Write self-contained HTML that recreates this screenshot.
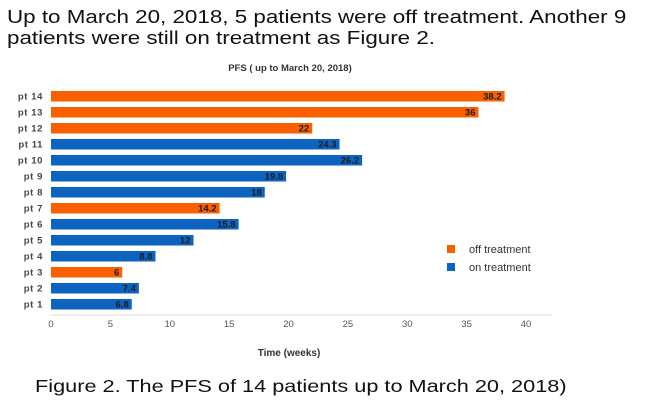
<!DOCTYPE html>
<html><head><meta charset="utf-8"><style>
body{margin:0;width:658px;height:405px;background:#fff;overflow:hidden;font-family:"Liberation Sans",sans-serif;}
.hdr{position:absolute;left:7px;font-size:18.5px;color:#111;white-space:nowrap;transform-origin:0 0;transform:scaleX(1.21);}
</style></head><body>
<div class="hdr" style="top:6px">Up to March 20, 2018, 5 patients were off treatment. Another 9</div>
<div class="hdr" style="top:27px">patients were still on treatment as Figure 2.</div>
<div class="hdr" style="top:376px;left:35px;font-size:17.5px;transform:scaleX(1.24)">Figure 2. The PFS of 14 patients up to March 20, 2018)</div>
<svg id="chart" width="658" height="405" style="position:absolute;left:0;top:0" xmlns="http://www.w3.org/2000/svg">
<text x="290" y="71" text-anchor="middle" font-size="9.5" font-weight="bold" fill="#333" font-family="Liberation Sans, sans-serif">PFS ( up to March 20, 2018)</text>
<text x="289" y="356" text-anchor="middle" font-size="10" font-weight="bold" fill="#333" font-family="Liberation Sans, sans-serif">Time (weeks)</text>
<line x1="51" y1="315" x2="552" y2="315" stroke="#ddd" stroke-width="1"/>
<rect x="447" y="245" width="8" height="8" fill="#f96100"/>
<text x="469" y="253" font-size="11" fill="#333" font-family="Liberation Sans, sans-serif">off treatment</text>
<rect x="447" y="263" width="8" height="8" fill="#0d64c0"/>
<text x="469" y="271" font-size="11" fill="#333" font-family="Liberation Sans, sans-serif">on treatment</text>
</svg>
<script>
const categories=["pt 1","pt 2","pt 3","pt 4","pt 5","pt 6","pt 7","pt 8","pt 9","pt 10","pt 11","pt 12","pt 13","pt 14"];
const values=[6.8,7.4,6,8.8,12,15.8,14.2,18,19.8,26.2,24.3,22,36,38.2];
const offTreatment=[0,0,1,0,0,0,1,0,0,0,0,1,1,1];
const xTicks=[0,5,10,15,20,25,30,35,40];
const svg=document.getElementById('chart');const NS='http://www.w3.org/2000/svg';
const x0=51,x1=526,xmax=40;
const xs=v=>x0+(x1-x0)*v/xmax;
const yTop=91,step=16,bh=10.5;
const ys=i=>yTop+(categories.length-1-i)*step;
function mk(t,a,txt){const e=document.createElementNS(NS,t);for(const k in a)e.setAttribute(k,a[k]);if(txt!==undefined)e.textContent=txt;svg.appendChild(e);return e;}
xTicks.forEach(t=>{const e=mk('text',{x:xs(t),y:327,'text-anchor':'middle','font-size':9.5,fill:'#555','font-family':'Liberation Sans, sans-serif'},t);

});
categories.forEach((c,i)=>{const y=ys(i);
const r=mk('rect',{x:x0,y:y,width:xs(values[i])-x0,height:bh,fill:offTreatment[i]?'#f96100':'#0d64c0'});


const l=mk('text',{x:43,y:y+8.5,'text-anchor':'end','font-size':9.5,'font-weight':'bold',fill:'#444','font-family':'Liberation Sans, sans-serif','letter-spacing':'0.6'},c);


const v=mk('text',{x:xs(values[i])-3,y:y+8.5,'text-anchor':'end','font-size':9.5,'font-weight':'bold',fill:'#1a1a1a','font-family':'Liberation Sans, sans-serif'},values[i]);

});
</script>
</body></html>
